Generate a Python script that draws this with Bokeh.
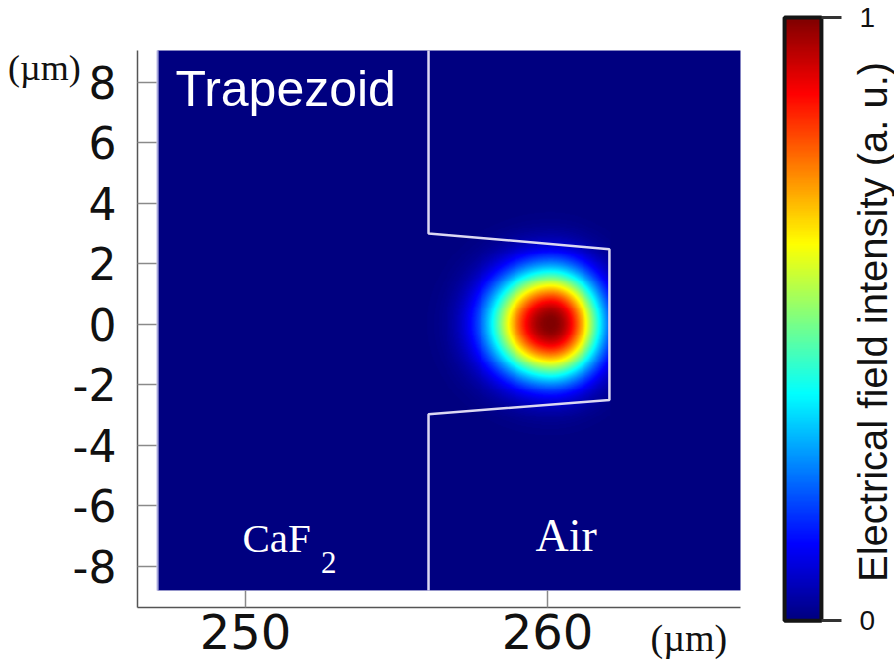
import numpy as np
from bokeh.plotting import figure
from bokeh.models import (Label, FixedTicker, LinearColorMapper, Range1d, LinearAxis,
                          CustomJSTickFormatter)
from bokeh.embed import file_html
from bokeh.resources import INLINE

# ---------------- data ----------------
X_TICKS = [250, 260]
Y_TICKS = [-8, -6, -4, -2, 0, 2, 4, 6, 8]

# plotted area (axes extent) in µm
AX_X = [246.42, 266.39]
AX_Y = [-9.35, 9.04]

# simulation window (image extent)
IMG_X = [247.09, 266.39]
IMG_Y = [-8.79, 9.04]

# waveguide (trapezoid) outline
RIDGE_X = [256.06, 256.06, 262.05, 262.05, 256.06, 256.06]
RIDGE_Y = [9.04, 3.00, 2.48, -2.50, -2.97, -8.79]

# mode field (normalised intensity)
FIELD_CENTER_X = 260.1
FIELD_CENTER_Y = 0.0
FIELD_WIDTH_LEFT = 1.95
FIELD_WIDTH_RIGHT = 1.62
FIELD_WIDTH_Y = 1.75
FIELD_EXPONENT = 2.3

CBAR_TICKS = [0, 1]
CBAR_LOW, CBAR_HIGH = 0, 1
CBAR_LABEL = "Electrical field intensity  (a. u.)"

# ---------------- layout constants (page geometry) ----------------
W, H = 894, 670
VIEW_X = [241.887, 271.490]     # full canvas in x (µm)
VIEW_Y = [-11.435, 10.692]      # full canvas in y (µm)
CB_X = [267.85, 269.07]         # colour bar box (x, µm)
CB_Y = [-9.79, 10.13]           # colour bar box (y, µm)

# ---------------- jet palette ----------------
def jet_palette(n=256):
    v = np.linspace(0, 1, n)
    r = np.clip(1.5 - np.abs(4 * v - 3), 0, 1)
    g = np.clip(1.5 - np.abs(4 * v - 2), 0, 1)
    b = np.clip(1.5 - np.abs(4 * v - 1), 0, 1)
    return ["#%02x%02x%02x" % (int(round(a * 255)), int(round(c * 255)), int(round(d * 255)))
            for a, c, d in zip(r, g, b)]

JET = jet_palette()
mapper = LinearColorMapper(palette=JET, low=CBAR_LOW, high=CBAR_HIGH)

# ---------------- field image ----------------
nx, ny = 600, 560
xs = np.linspace(IMG_X[0], IMG_X[1], nx)
ys = np.linspace(IMG_Y[0], IMG_Y[1], ny)
XX, YY = np.meshgrid(xs, ys)
wx = np.where(XX < FIELD_CENTER_X, FIELD_WIDTH_LEFT, FIELD_WIDTH_RIGHT)
rr = np.sqrt(((XX - FIELD_CENTER_X) / wx) ** 2 + ((YY - FIELD_CENTER_Y) / FIELD_WIDTH_Y) ** 2)
field = np.exp(-rr ** FIELD_EXPONENT)
field = np.where(XX > RIDGE_X[2], 0.0, field)

# ---------------- figure ----------------
p = figure(width=W, height=H,
           x_range=Range1d(*VIEW_X), y_range=Range1d(*VIEW_Y),
           output_backend="svg", toolbar_location=None,
           min_border=0, min_border_left=0, min_border_right=0,
           min_border_top=0, min_border_bottom=0)
p.grid.visible = False
p.outline_line_color = None
p.background_fill_color = "white"

p.image(image=[field], x=IMG_X[0], y=IMG_Y[0], dw=IMG_X[1] - IMG_X[0], dh=IMG_Y[1] - IMG_Y[0],
        color_mapper=mapper)
p.line([IMG_X[0], IMG_X[0]], IMG_Y, line_color="#a8a8dc", line_width=2)
p.line(RIDGE_X, RIDGE_Y, line_color="#dcd8f2", line_width=2.5)

# axes drawn at the edges of the plotted area
p.xaxis.fixed_location = AX_Y[0]
p.xaxis.bounds = (AX_X[0], AX_X[1])
p.yaxis.fixed_location = AX_X[0]
p.yaxis.bounds = (AX_Y[0], AX_Y[1])
p.xaxis.ticker = FixedTicker(ticks=X_TICKS)
p.yaxis.ticker = FixedTicker(ticks=Y_TICKS)
p.yaxis.formatter = CustomJSTickFormatter(code="return tick.toString();")
for ax in (p.xaxis[0], p.yaxis[0]):
    ax.axis_line_color = "#555555"
    ax.axis_line_width = 1.5
    ax.major_tick_line_color = "#8a8a8a"
    ax.major_tick_line_width = 1.5
    ax.major_tick_out = 0
    ax.minor_tick_line_color = None
    ax.major_label_text_font = "DejaVu Sans"
    ax.major_label_text_color = "#111111"
p.yaxis.major_tick_in = 19
p.yaxis.major_label_text_font_size = "44px"
p.yaxis.major_label_standoff = 21
p.xaxis.major_tick_in = 17
p.xaxis.major_label_text_font_size = "48px"
p.xaxis.major_label_standoff = 7

# colour bar (gradient of the colour mapper + its own axis)
grad = np.linspace(CBAR_LOW, CBAR_HIGH, 256).reshape(256, 1)
p.image(image=[grad], x=CB_X[0], y=CB_Y[0], dw=CB_X[1] - CB_X[0], dh=CB_Y[1] - CB_Y[0],
        color_mapper=mapper)
p.quad(left=CB_X[0], right=CB_X[1], bottom=CB_Y[0], top=CB_Y[1],
       fill_color=None, line_color="#151515", line_width=4)
span = CB_Y[1] - CB_Y[0]
p.extra_y_ranges = {"cb": Range1d(CBAR_LOW - (CB_Y[0] - VIEW_Y[0]) / span,
                                  CBAR_HIGH + (VIEW_Y[1] - CB_Y[1]) / span)}
cb_axis = LinearAxis(y_range_name="cb", fixed_location=CB_X[1], bounds=(CBAR_LOW, CBAR_HIGH),
                     ticker=FixedTicker(ticks=CBAR_TICKS))
cb_axis.axis_line_color = None
cb_axis.major_tick_in = 0
cb_axis.major_tick_out = 20
cb_axis.major_tick_line_color = "#333333"
cb_axis.major_tick_line_width = 3
cb_axis.minor_tick_line_color = None
cb_axis.major_label_standoff = 18
cb_axis.major_label_text_font = "Liberation Sans"
cb_axis.major_label_text_font_size = "28px"
cb_axis.major_label_text_color = "#111111"
p.add_layout(cb_axis, "right")

# texts
p.add_layout(Label(x=244.54, y=7.79, text="(µm)", text_font="Liberation Serif",
                   text_font_size="36px", text_color="#111111", text_align="right"))
p.add_layout(Label(x=263.41, y=-11.07, text="(µm)", text_font="Liberation Serif",
                   text_font_size="38px", text_color="#111111", text_align="left"))
p.add_layout(Label(x=247.68, y=6.83, text="Trapezoid", text_font="Liberation Sans",
                   text_font_size="50px", text_color="white"))
p.add_layout(Label(x=249.90, y=-7.82, text="CaF", text_font="Liberation Serif",
                   text_font_size="41px", text_color="white"))
p.add_layout(Label(x=252.50, y=-8.20, text="2", text_font="Liberation Serif",
                   text_font_size="31px", text_color="white"))
p.add_layout(Label(x=259.6, y=-7.82, text="Air", text_font="Liberation Serif",
                   text_font_size="46px", text_color="white"))
p.add_layout(Label(x=270.79, y=0.26, text=CBAR_LABEL, angle=np.pi / 2,
                   text_font="Liberation Sans", text_font_size="40px", text_color="#111111",
                   text_align="center", text_baseline="middle"))

open("out.html", "w").write(file_html(p, INLINE))
